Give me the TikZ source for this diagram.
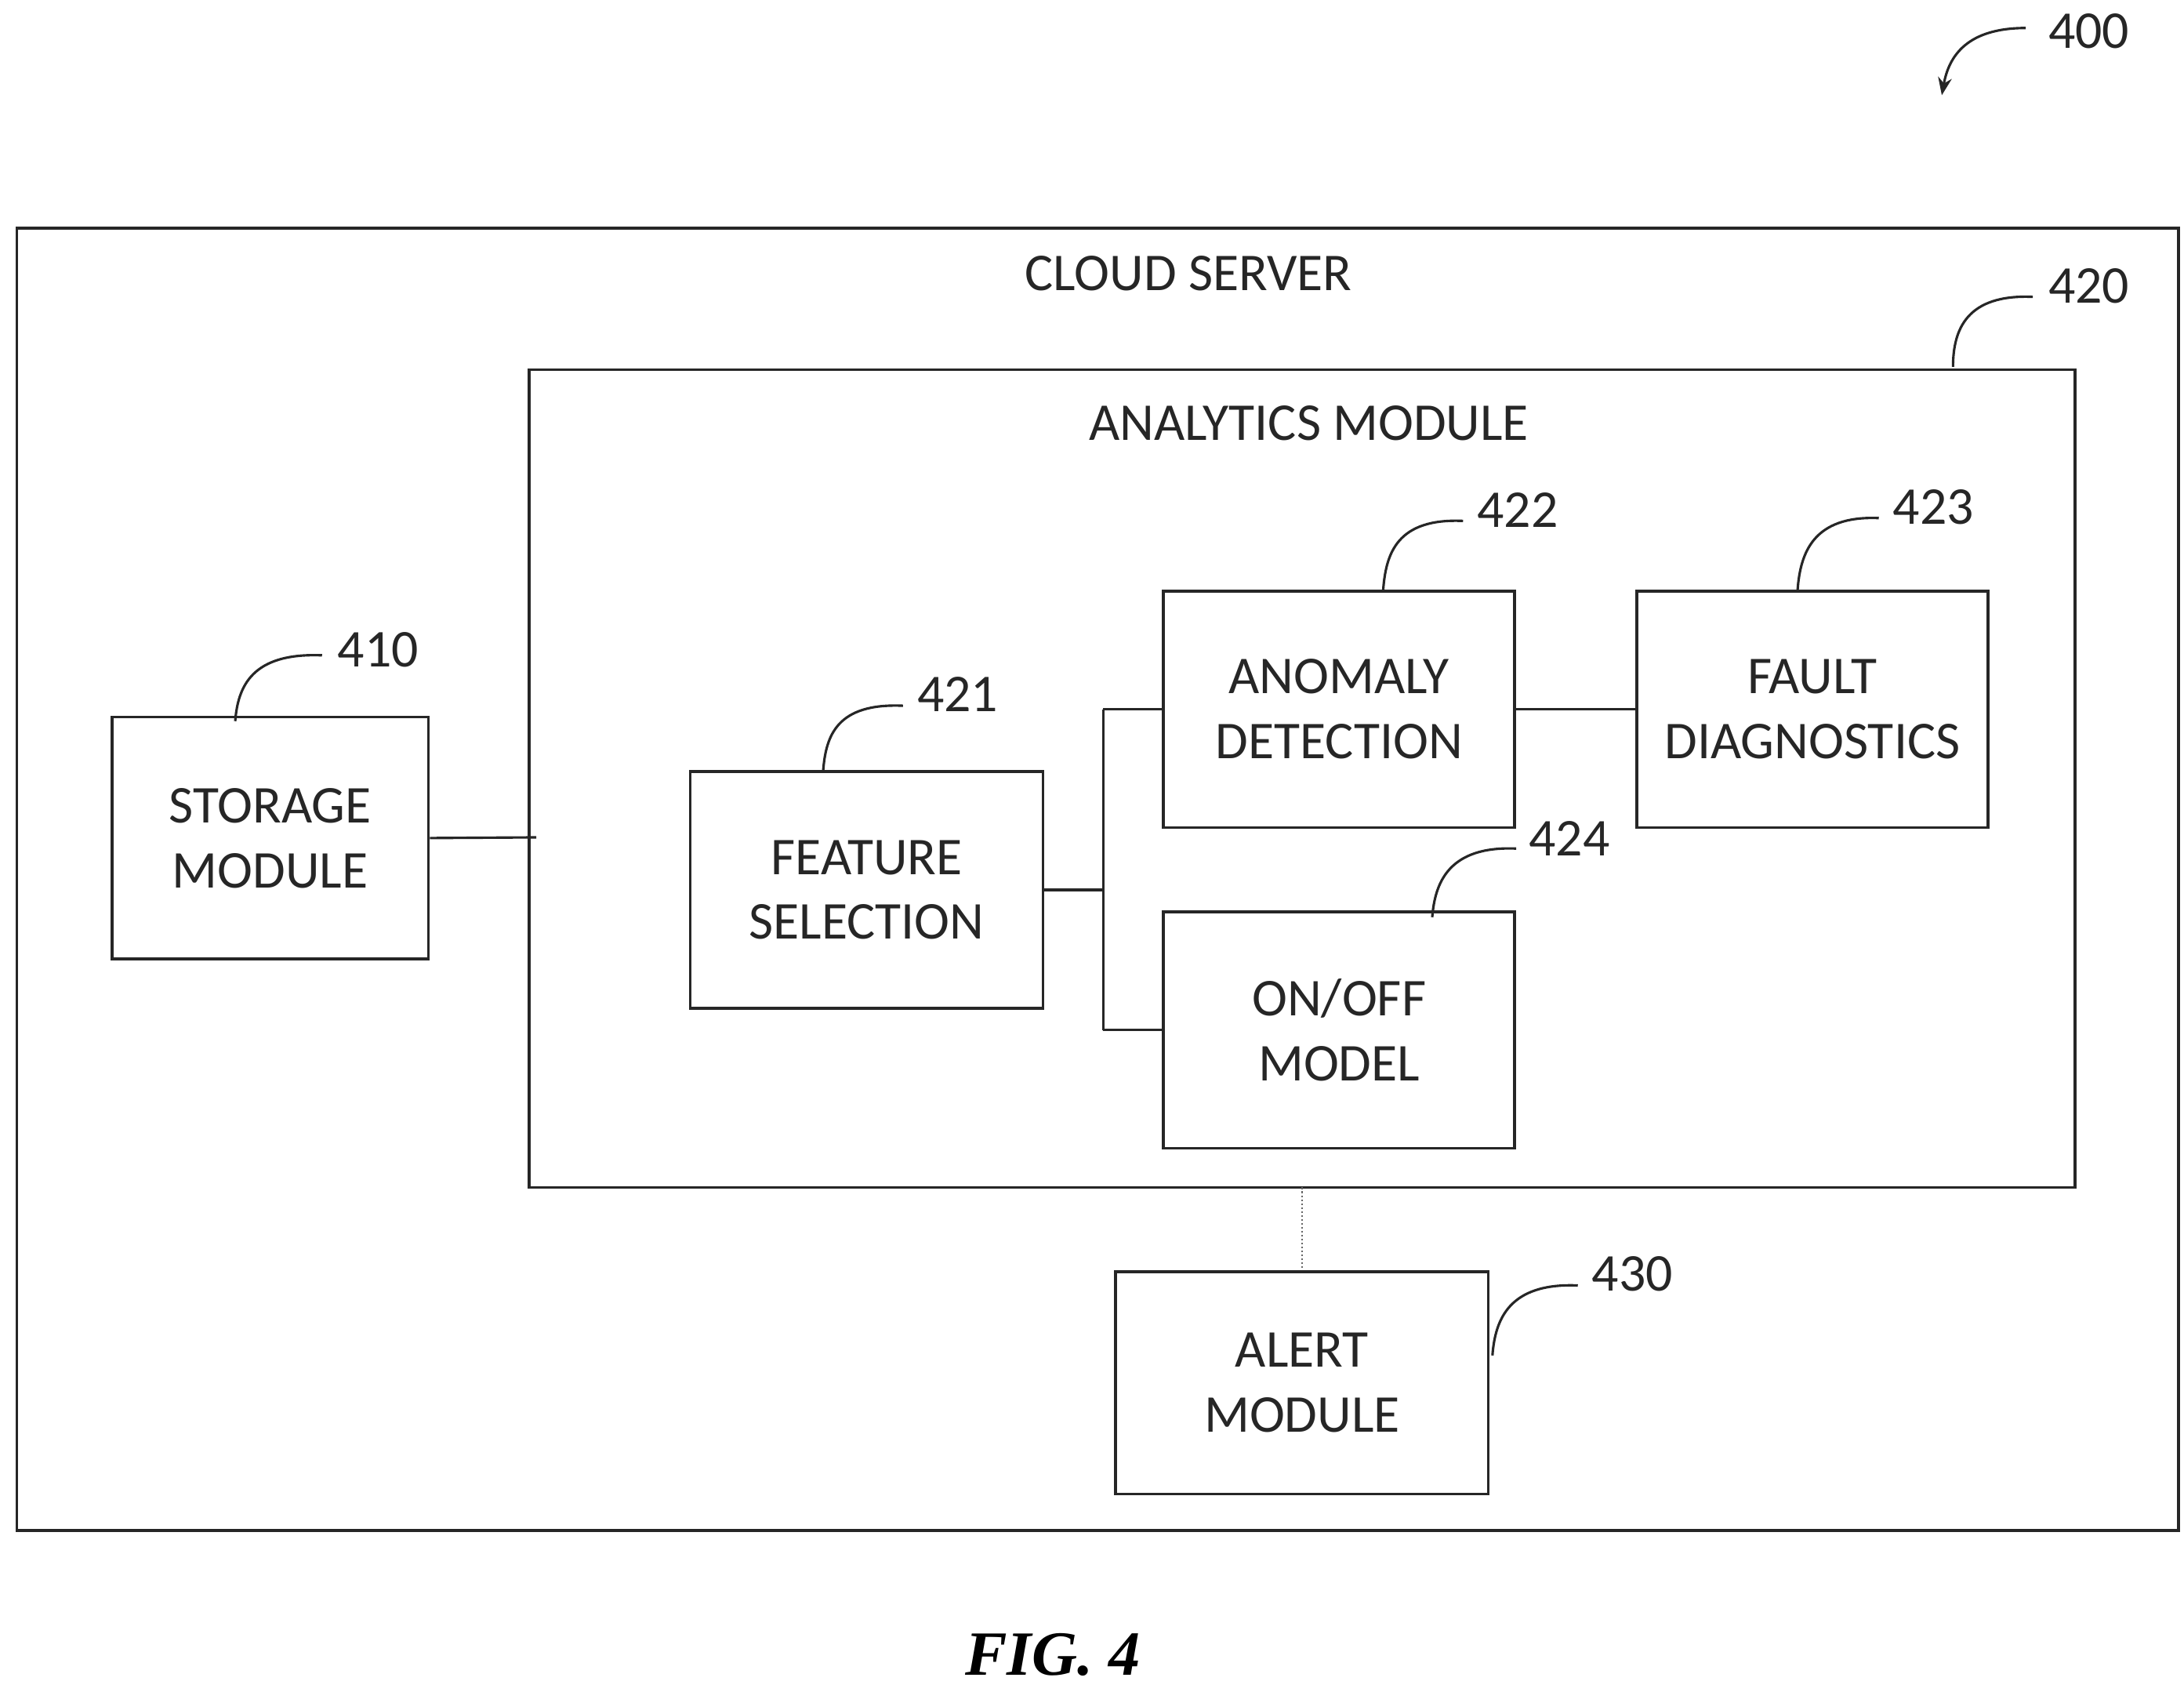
\documentclass[tikz,border=0pt]{standalone}
\usepackage{fontspec}
\usetikzlibrary{arrows.meta}
\setmainfont{Carlito}
\newfontfamily\figfont{Liberation Serif}
\begin{document}
\begin{tikzpicture}[x=0.05cm,y=-0.05cm,
  box/.style={draw=black!85,line width=3pt},
  lbl/.style={font=\fontsize{54}{66}\selectfont,text=black!85,align=center},
  con/.style={draw=black!85,line width=2.5pt},
  lead/.style={draw=black!85,line width=2.5pt}]
\useasboundingbox (0,0) rectangle (1560,1208);
\draw[box] (12,163) rectangle (1556,1093);
\node[lbl] (cs) at (849,195) {CLOUD SERVER};
\draw[box] (378,264) rectangle (1482,848);
\node[lbl] (amt) at (935,302) {ANALYTICS MODULE};
\node[box,lbl,minimum width=226*0.05cm,minimum height=173*0.05cm] (st) at (193,598.5) {STORAGE\\MODULE};
\node[box,lbl,minimum width=252*0.05cm,minimum height=169*0.05cm] (fs) at (619,635.5) {FEATURE\\SELECTION};
\node[box,lbl,minimum width=251*0.05cm,minimum height=169*0.05cm] (ad) at (956.5,506.5) {ANOMALY\\DETECTION};
\node[box,lbl,minimum width=251*0.05cm,minimum height=169*0.05cm] (fd) at (1294.5,506.5) {FAULT\\DIAGNOSTICS};
\node[box,lbl,minimum width=251*0.05cm,minimum height=169*0.05cm] (oo) at (956.5,735.5) {ON/OFF\\MODEL};
\node[box,lbl,minimum width=266*0.05cm,minimum height=159*0.05cm] (al) at (930,987.5) {ALERT\\MODULE};
\coordinate (amb) at (930,848);
\coordinate (aml) at (383,598);
\coordinate (j1) at (788,506.5);
\coordinate (j2) at (788,735.5);
\coordinate (j0) at (788,635.5);
\draw[con] (st.east) -- (aml);
\draw[con] (fs.east) -- (j0);
\draw[con] (j1) -- (j2);
\draw[con] (j1) -- (ad.west);
\draw[con] (j2) -- (oo.west);
\draw[con] (ad.east) -- (fd.west);
\draw[draw=black!60,line width=2pt,dotted] (amb) -- (al.north);
\node[lbl] (n400) at (1492,22) {400};
\node[lbl] (n420) at (1492,204) {420};
\node[lbl] (n410) at (270,464) {410};
\node[lbl] (n421) at (684,496) {421};
\node[lbl] (n422) at (1084,364) {422};
\node[lbl] (n423) at (1381,362) {423};
\node[lbl] (n424) at (1121,599) {424};
\node[lbl] (n430) at (1166,910) {430};
\draw[lead] (1452,212) .. controls (1405,210) and (1395,235) .. (1395,262);
\draw[lead] (230,468) .. controls (180,466) and (170,490) .. (168,515);
\draw[lead] (645,504) .. controls (598,502) and (590,525) .. (588,550);
\draw[lead] (1045,372) .. controls (998,370) and (990,395) .. (988,421);
\draw[lead] (1342,370) .. controls (1295,368) and (1286,395) .. (1284,421);
\draw[lead] (1083,606) .. controls (1035,604) and (1025,630) .. (1023,655);
\draw[lead] (1127,918) .. controls (1078,916) and (1068,942) .. (1066,968);
\draw[lead,-{Stealth[length=18pt,width=14pt]}] (1447,20) .. controls (1405,20) and (1392,40) .. (1387,68);
\node[font=\figfont\bfseries\itshape\fontsize{64}{72}\selectfont] (fig) at (752,1182) {FIG. 4};
\end{tikzpicture}
\end{document}
